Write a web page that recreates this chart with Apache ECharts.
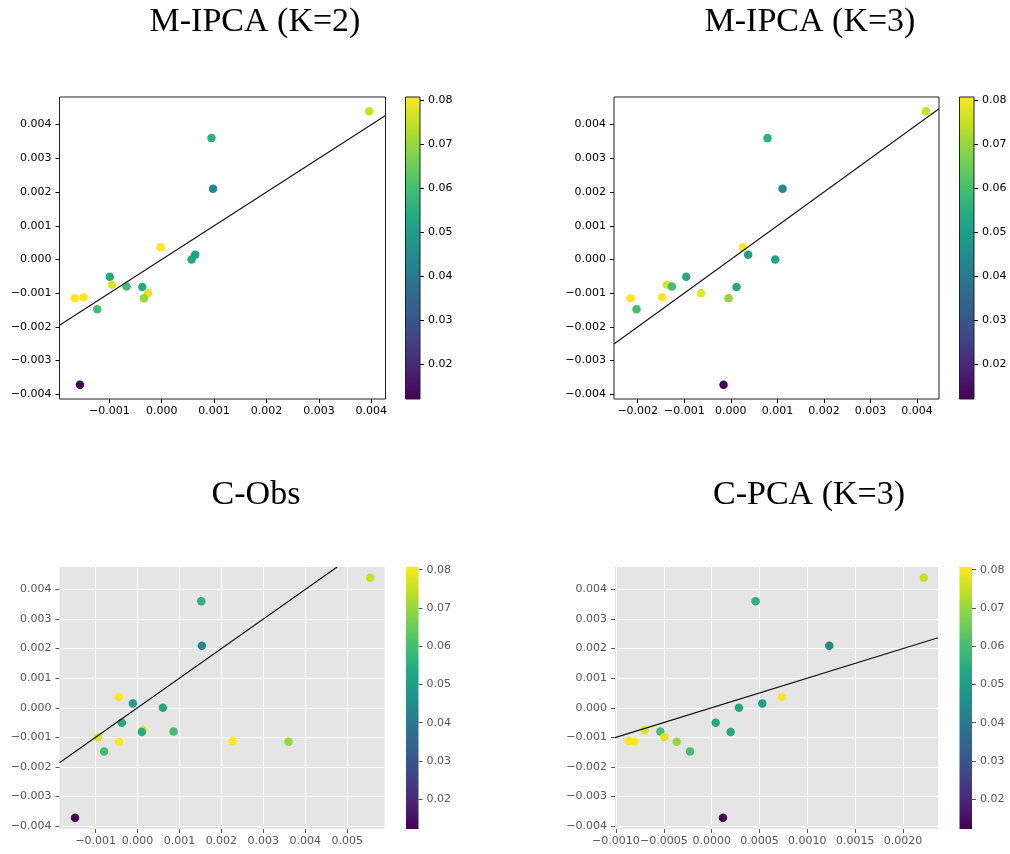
<!DOCTYPE html>
<html><head><meta charset="utf-8">
<script src="https://cdn.jsdelivr.net/npm/echarts@6/dist/echarts.min.js"></script>
<style>html,body{margin:0;padding:0;background:#fff}#c{width:1010px;height:854px}</style>
</head><body><div id="c"></div>
<script>
// ---- data ----
const yVals   = [0.0044, 0.0036, 0.0021, 0.00036, 0.0, 0.00014, -0.00051, -0.00075, -0.0008, -0.00082, -0.001, -0.00115, -0.00115, -0.00112, -0.00148, -0.00372];
const cVals   = [0.075, 0.056, 0.044, 0.0807, 0.053, 0.051, 0.054, 0.077, 0.060, 0.054, 0.078, 0.0697, 0.0807, 0.0805, 0.060, 0.0122];
const xMIPCA2 = [0.00396, 0.00095, 0.00098, -0.00002, 0.00057, 0.00064, -0.00099, -0.00095, -0.00067, -0.00037, -0.00026, -0.00034, -0.00166, -0.00149, -0.00123, -0.00156];
const xMIPCA3 = [0.00419, 0.000787, 0.00111, 0.000258, 0.000952, 0.000372, -0.000959, -0.001374, -0.001267, 0.000122, -0.000644, -0.00005, -0.002155, -0.001475, -0.002026, -0.000157];
const xCObs   = [0.00555, 0.00152, 0.001535, -0.000445, 0.000605, -0.000111, -0.000374, 0.000127, 0.00086, 0.000103, -0.000947, 0.0036, -0.00044, 0.00227, -0.000796, -0.00149];
const xCPCA3  = [0.002217, 0.000459, 0.001229, 0.000734, 0.000285, 0.000529, 0.000042, -0.00070, -0.000536, 0.000198, -0.000494, -0.000365, -0.000808, -0.000867, -0.000226, 0.000118];

const titles   = ['M-IPCA (K=2)', 'M-IPCA (K=3)', 'C-Obs', 'C-PCA (K=3)'];
const yTicks   = [-0.004, -0.003, -0.002, -0.001, 0, 0.001, 0.002, 0.003, 0.004];
const xTicks1  = [-0.001, 0, 0.001, 0.002, 0.003, 0.004];
const xTicks2  = [-0.002, -0.001, 0, 0.001, 0.002, 0.003, 0.004];
const xTicks3  = [-0.001, 0, 0.001, 0.002, 0.003, 0.004, 0.005];
const xTicks4  = [-0.001, -0.0005, 0, 0.0005, 0.001, 0.0015, 0.002];
const cTicks   = [0.02, 0.03, 0.04, 0.05, 0.06, 0.07, 0.08];
const cMin = 0.0122, cMax = 0.0807;

const viridis = ['#440154','#482475','#414487','#355f8d','#2a788e','#21918c','#22a884','#44bf70','#7ad151','#bddf26','#fde725'];

// ---- layout ----
const panels = [
  {x: xMIPCA2, xt: xTicks1, dec: 3, xr: [-0.00195, 0.00427], yr: [-0.00414, 0.00482], g: {left: 59.5, top: 97, width: 326, height: 302}, cb: {left: 405.5, top: 97, width: 14.5, height: 302}, style: 'classic', tx: 255, ty: 22},
  {x: xMIPCA3, xt: xTicks2, dec: 3, xr: [-0.00251, 0.00447], yr: [-0.00414, 0.00482], g: {left: 614, top: 97, width: 325, height: 302}, cb: {left: 959.5, top: 97, width: 14.5, height: 302}, style: 'classic', tx: 810, ty: 22},
  {x: xCObs, xt: xTicks3, dec: 3, xr: [-0.00186, 0.00589], yr: [-0.0041, 0.00476], g: {left: 59.5, top: 567, width: 325, height: 262}, cb: {left: 406, top: 567, width: 12.5, height: 262}, style: 'ggplot', tx: 256, ty: 495},
  {x: xCPCA3, xt: xTicks4, dec: 4, xr: [-0.00101, 0.002365], yr: [-0.0041, 0.00476], g: {left: 615, top: 567, width: 323, height: 262}, cb: {left: 959.5, top: 567, width: 12.5, height: 262}, style: 'ggplot', tx: 809, ty: 495}
];

const fmt = d => v => (v < 0 ? '\u2212' : '') + Math.abs(v).toFixed(d);
const FONT = 'DejaVu Sans';
const FS = 11;

const grid = [], xAxis = [], yAxis = [], series = [], visualMap = [], graphic = [];
panels.forEach((p, i) => {
  const classic = p.style === 'classic';
  const lab = classic ? '#000' : '#555';
  const tick = classic ? '#000' : '#555';
  grid.push(Object.assign({show: true, backgroundColor: classic ? '#fff' : '#E5E5E5',
    borderColor: '#222', borderWidth: classic ? 1 : 0, containLabel: false}, p.g));
  const stops = viridis.map((c, k) => ({offset: k / (viridis.length - 1), color: c}));
  grid.push(Object.assign({show: true, backgroundColor: new echarts.graphic.LinearGradient(0, 1, 0, 0, stops),
    borderColor: '#222', borderWidth: classic ? 1 : 0, z: 5}, p.cb));
  const gi = i * 2, ci = i * 2 + 1;
  xAxis.push({gridIndex: gi, type: 'value', min: p.xr[0], max: p.xr[1], position: 'bottom',
    axisLine: {show: false, onZero: false}, axisTick: {show: true, length: 4, lineStyle: {color: tick}, customValues: p.xt},
    axisLabel: {customValues: p.xt, formatter: fmt(p.dec), color: lab, fontFamily: FONT, fontSize: FS, margin: 7},
    splitLine: {show: !classic, lineStyle: {color: '#fff', width: 1}}});
  yAxis.push({gridIndex: gi, type: 'value', min: p.yr[0], max: p.yr[1], position: 'left',
    axisLine: {show: false, onZero: false}, axisTick: {show: true, length: 4, lineStyle: {color: tick}, customValues: yTicks},
    axisLabel: {customValues: yTicks, formatter: fmt(3), color: lab, fontFamily: FONT, fontSize: FS, margin: 8},
    splitLine: {show: !classic, lineStyle: {color: '#fff', width: 1}}});
  xAxis.push({gridIndex: ci, type: 'value', min: 0, max: 1, show: false});
  yAxis.push({gridIndex: ci, type: 'value', min: cMin, max: cMax, position: 'right',
    axisLine: {show: false, onZero: false}, axisTick: {show: true, length: 4, lineStyle: {color: tick}, customValues: cTicks},
    axisLabel: {customValues: cTicks, formatter: v => v.toFixed(2), color: lab, fontFamily: FONT, fontSize: FS, margin: 8},
    splitLine: {show: false}});
  const sIdx = series.length;
  series.push({type: 'scatter', xAxisIndex: gi, yAxisIndex: gi, symbolSize: 8.5, z: 2,
    data: p.x.map((xv, k) => [xv, yVals[k], cVals[k]]), itemStyle: {opacity: 1}});
  // identity line y = x, spanning the part of it that lies inside the axes box
  const lo = Math.max(p.xr[0], p.yr[0]), hi = Math.min(p.xr[1], p.yr[1]);
  series.push({type: 'line', xAxisIndex: gi, yAxisIndex: gi, data: [[lo, lo], [hi, hi]], symbol: 'none',
    clip: true, z: 3, lineStyle: {color: '#111', width: 1.1}, silent: true});
  visualMap.push({type: 'continuous', show: false, seriesIndex: sIdx, dimension: 2, min: cMin, max: cMax,
    inRange: {color: viridis}});
  graphic.push({type: 'text', x: p.tx, y: p.ty, style: {text: titles[i], fill: '#000',
    font: '34px "Liberation Serif"', textAlign: 'center', textVerticalAlign: 'middle'}});
});

const chart = echarts.init(document.getElementById('c'), null, {renderer: 'canvas'});
chart.setOption({animation: false, grid, xAxis, yAxis, series, visualMap, graphic});
</script></body></html>
